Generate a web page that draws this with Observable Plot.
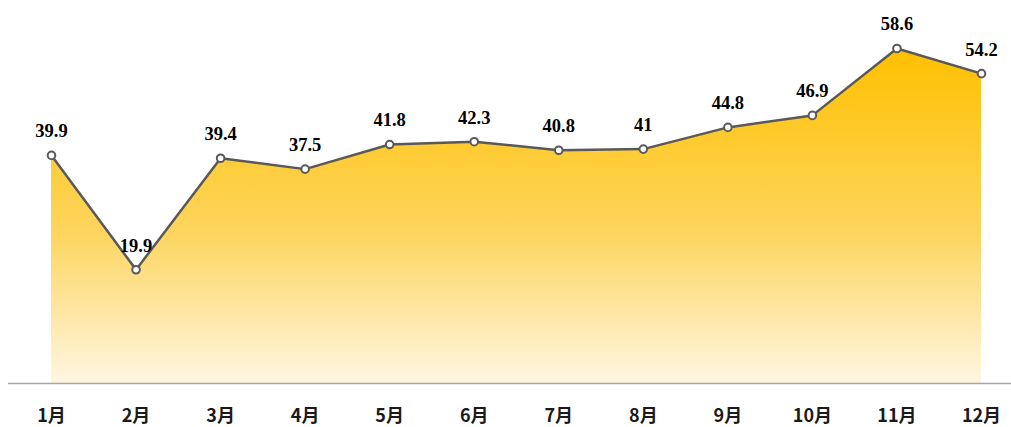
<!DOCTYPE html>
<html>
<head>
<meta charset="utf-8">
<script src="https://cdn.jsdelivr.net/npm/d3@7"></script>
<script src="https://cdn.jsdelivr.net/npm/@observablehq/plot@0.6"></script>
<style>
  html, body { margin: 0; padding: 0; background: #fff; }
  #chart svg { display: block; }
</style>
</head>
<body>
<div id="chart"></div>
<script>
const months = ["1月","2月","3月","4月","5月","6月","7月","8月","9月","10月","11月","12月"];
const values = [39.9, 19.9, 39.4, 37.5, 41.8, 42.3, 40.8, 41, 44.8, 46.9, 58.6, 54.2];
const labels = ["39.9","19.9","39.4","37.5","41.8","42.3","40.8","41","44.8","46.9","58.6","54.2"];

const data = months.map((m, i) => ({month: m, value: values[i], label: labels[i]}));

const chart = Plot.plot({
  width: 1011,
  height: 427,
  marginLeft: 51,
  marginRight: 30,
  marginTop: 40,
  marginBottom: 44,
  x: {type: "point", domain: months, padding: 0, round: false, label: null},
  y: {domain: [0, 60], axis: null},
  style: {background: "#fff", overflow: "visible"},
  marks: [
    Plot.areaY(data, {x: "month", y: "value", fill: "url(#areaGrad)", curve: "linear"}),
    Plot.ruleY([0], {stroke: "#a6a6a6", strokeWidth: 1.5, insetLeft: -43, insetRight: -30}),
    Plot.lineY(data, {x: "month", y: "value", stroke: "#595959", strokeWidth: 2.5}),
    Plot.dot(data, {x: "month", y: "value", r: 3.8, fill: "#fff", stroke: "#595959", strokeWidth: 2}),
    Plot.text(data, {x: "month", y: "value", text: "label", dy: -24, fontSize: 18.5, fontWeight: "bold", fill: "#000", fontFamily: "'Liberation Serif', 'Times New Roman', serif"}),
    Plot.axisX({tickSize: 0, tickPadding: 26, fontSize: 18, fontWeight: "bold", fill: "#1a1a1a", fontFamily: "'Noto Sans CJK SC', sans-serif", label: null})
  ]
});

const svg = d3.select(chart);
const defs = svg.insert("defs", ":first-child");
const g = defs.append("linearGradient").attr("id", "areaGrad").attr("x1", 0).attr("y1", 0).attr("x2", 0).attr("y2", 1);
g.append("stop").attr("offset", "0%").attr("stop-color", "#FFC000");
g.append("stop").attr("offset", "55%").attr("stop-color", "#FDD55E");
g.append("stop").attr("offset", "100%").attr("stop-color", "#FFF6E2");

document.getElementById("chart").appendChild(chart);
</script>
</body>
</html>
